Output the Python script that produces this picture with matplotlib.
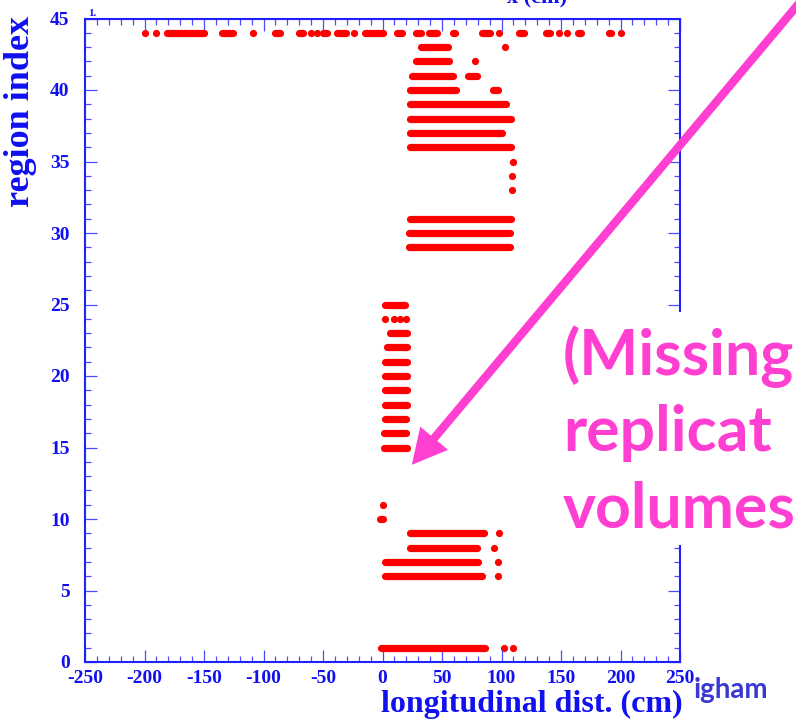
import matplotlib
matplotlib.use("Agg")
import matplotlib.pyplot as plt
from matplotlib.patches import FancyArrowPatch, Rectangle
from matplotlib.ticker import MultipleLocator

# dense runs of hits: region index, first and last position (cm)
run_region = [44, 44, 44, 44, 44, 44, 44, 44, 44, 44, 44, 44, 44, 44, 44, 44,
              43, 42, 41, 41, 40, 40, 39, 38, 37, 36, 31, 30, 29,
              25, 23, 22, 21, 20, 19, 18, 17, 16, 15,
              10, 9, 8, 7, 6, 1]
run_start = [-181, -135, -90, -70, -50, -38, -15, 12, 28, 39, 59, 84, 115, 137, 164, 190,
             32, 28, 25, 72, 23, 93, 23, 23, 23, 23, 23, 22, 22,
             2, 6, 4, 2, 2, 2, 2, 2, 1, 1,
             -2, 23, 23, 2, 2, -1]
run_end = [-150, -126, -86, -67, -47, -31, 0, 16, 32, 46, 61, 90, 119, 141, 167, 192,
           55, 56, 59, 79, 62, 97, 104, 108, 100, 108, 108, 107, 107,
           19, 21, 21, 21, 21, 21, 21, 20, 20, 21,
           0, 85, 79, 80, 84, 86]

# isolated hits
hit_region = [44, 44, 44, 44, 44, 44, 44, 44, 44, 44,
              43, 42, 35, 34, 33, 24, 24, 24, 24, 11, 9, 8, 7, 6, 1, 1]
hit_x = [-200, -190, -109, -60, -55, -24, 98, 148, 155, 200,
         103, 78, 110, 109, 109, 2, 10, 15, 20, 0, 98, 94, 97, 97, 102, 110]

W, H = 796, 725
blue = "#1010f0"
pink = "#ff3fd2"
serif = "Liberation Serif"
plt.rcParams["axes.unicode_minus"] = False


def px(x, y):
    # image pixel (from top-left) -> figure fraction
    return x / W, 1 - y / H


fig = plt.figure(figsize=(W / 100, H / 100), dpi=100)
ax = fig.add_axes([85 / W, 1 - 662 / H, (680 - 85) / W, (662 - 18.5) / H])

lc = ax.hlines(run_region, run_start, run_end, colors="red", linewidth=5.2)
lc.set_capstyle("round")
ax.scatter(hit_x, hit_region, s=27, c="red", linewidths=0)

ax.set_xlim(-250, 250)
ax.set_ylim(0, 45)
ax.xaxis.set_major_locator(MultipleLocator(50))
ax.xaxis.set_minor_locator(MultipleLocator(10))
ax.yaxis.set_major_locator(MultipleLocator(5))
ax.yaxis.set_minor_locator(MultipleLocator(1))
ax.tick_params(which="both", direction="in", top=True, right=True,
               color="#4a4aff", width=0.9)
ax.tick_params(which="major", length=8.5)
ax.tick_params(which="minor", length=4.5)
ax.tick_params(axis="x", pad=6, labelsize=14, labelcolor=blue)
ax.tick_params(axis="y", pad=11, labelsize=14, labelcolor=blue)
for lab in ax.get_xticklabels() + ax.get_yticklabels():
    lab.set_fontfamily(serif)
    lab.set_fontweight("bold")
for sp in ax.spines.values():
    sp.set_color("#2020ff")
    sp.set_linewidth(1.5)

fig.text(*px(683, 712), "longitudinal dist. (cm)", ha="right", va="baseline",
         fontsize=23, fontweight="bold", family=serif, color=blue)
fig.text(*px(21, 16), "region index", rotation=90, ha="center", va="top",
         fontsize=26, fontweight="bold", family=serif, color=blue)
fig.text(*px(88, 16), "1.", ha="left", va="baseline",
         fontsize=8, fontweight="bold", family=serif, color=blue)
fig.text(*px(537, 3), "x (cm)", ha="center", va="baseline",
         fontsize=16, fontweight="bold", family=serif, color=blue)

# white panel behind the annotation text
fig.add_artist(Rectangle(px(552, 545), (W - 552) / W, (545 - 312) / H,
                         transform=fig.transFigure, facecolor="white",
                         edgecolor="none", zorder=5))
for txt, yb in [("(Missing", 375), ("replicat", 451), ("volumes", 527)]:
    fig.text(*px(563, yb), txt, ha="left", va="baseline", fontsize=45,
             fontweight="bold", family="Lato", color=pink, zorder=6)

fig.text(*px(694, 698), "igham", ha="left", va="baseline", fontsize=20,
         fontweight="bold", family="Lato", color="#3838d2", zorder=6)

arrow = FancyArrowPatch(px(806, -5), px(410, 467), transform=fig.transFigure,
                        arrowstyle="simple,head_length=2.5,head_width=2.6,tail_width=0.6",
                        mutation_scale=10, color=pink, lw=0, zorder=7)
fig.add_artist(arrow)

fig.savefig("out.png", dpi=100)
